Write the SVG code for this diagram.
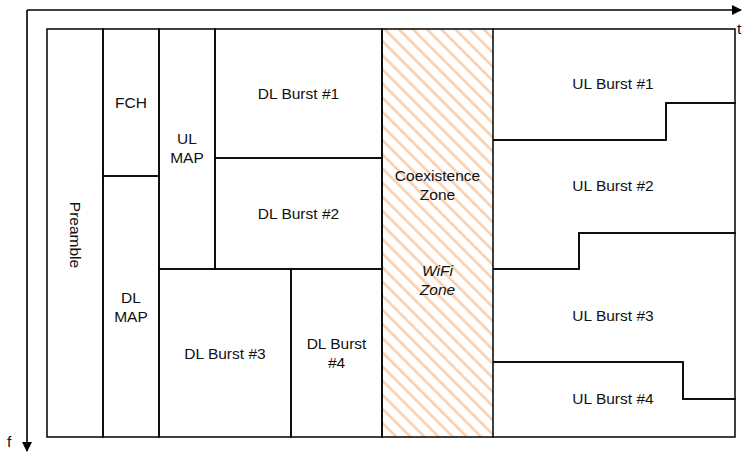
<svg xmlns="http://www.w3.org/2000/svg" width="742" height="453" viewBox="0 0 742 453">
<defs>
<style>
.b{fill:none;stroke:#000;stroke-width:1.5}
.t{font-family:"Liberation Sans",Arial,sans-serif;font-size:15.5px;fill:#111;text-anchor:middle}
.i{font-style:italic}
.ax{stroke:#000;stroke-width:1.6;fill:none}
</style>
<pattern id="hatch" patternUnits="userSpaceOnUse" width="10" height="10" patternTransform="rotate(-45)">
<rect width="10" height="10" fill="#fff"/>
<rect x="0" y="0" width="2.6" height="10" fill="#f9cfad"/>
</pattern>
<marker id="ah" markerWidth="10" markerHeight="10" refX="9" refY="5" orient="auto" markerUnits="userSpaceOnUse">
<path d="M0,0 L10,5 L0,10 Z" fill="#000"/>
</marker>
</defs>
<rect width="742" height="453" fill="#fff"/>
<g id="axes">
<path class="ax" d="M27,10 H741" marker-end="url(#ah)"/>
<path class="ax" d="M27,10 V451" marker-end="url(#ah)"/>
<text x="737" y="34" class="t" style="text-anchor:start">t</text>
<text x="7" y="447" class="t" style="text-anchor:start">f</text>
</g>
<g id="coexistence">
<rect x="382" y="29" width="111" height="408" class="b" style="fill:url(#hatch)"/>
<text class="t" x="437.5" y="181">Coexistence</text>
<text class="t" x="437.5" y="200">Zone</text>
<text class="t i" x="437.5" y="276">WiFi</text>
<text class="t i" x="437.5" y="295">Zone</text>
</g>
<g id="preamble">
<rect class="b" x="47" y="29" width="56" height="408"/>
<text class="t" transform="translate(75,235) rotate(90)" y="5.5">Preamble</text>
</g>
<g id="fch">
<rect class="b" x="103" y="29" width="56" height="147"/>
<text class="t" x="131" y="108">FCH</text>
</g>
<g id="dlmap">
<rect class="b" x="103" y="176" width="56" height="261"/>
<text class="t" x="131" y="303">DL</text>
<text class="t" x="131" y="322">MAP</text>
</g>
<g id="ulmap">
<rect class="b" x="159" y="29" width="56" height="240"/>
<text class="t" x="187" y="144">UL</text>
<text class="t" x="187" y="163">MAP</text>
</g>
<g id="dlburst1">
<rect class="b" x="215" y="29" width="167" height="129"/>
<text class="t" x="298.5" y="99">DL Burst #1</text>
</g>
<g id="dlburst2">
<rect class="b" x="215" y="158" width="167" height="111"/>
<text class="t" x="298.5" y="219">DL Burst #2</text>
</g>
<g id="dlburst3">
<rect class="b" x="159" y="269" width="132" height="168"/>
<text class="t" x="225" y="359">DL Burst #3</text>
</g>
<g id="dlburst4">
<rect class="b" x="291" y="269" width="91" height="168"/>
<text class="t" x="336.5" y="349">DL Burst</text>
<text class="t" x="336.5" y="368">#4</text>
</g>
<g id="ulburst1">
<path class="b" d="M493,29 H735 V103 H666 V140 H493"/>
<text class="t" x="613" y="89">UL Burst #1</text>
</g>
<g id="ulburst2">
<path class="b" d="M493,140 H666 V103 H735 V233 H579 V269 H493"/>
<text class="t" x="613" y="191">UL Burst #2</text>
</g>
<g id="ulburst3">
<path class="b" d="M493,269 H579 V233 H735 V399 H683 V362 H493"/>
<text class="t" x="613" y="321">UL Burst #3</text>
</g>
<g id="ulburst4">
<path class="b" d="M493,362 H683 V399 H735 V437 H493"/>
<text class="t" x="613" y="404">UL Burst #4</text>
</g>
</svg>
